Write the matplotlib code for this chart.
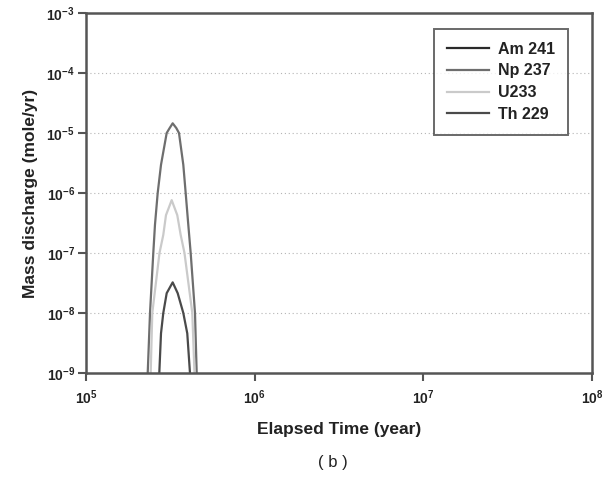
import math
import matplotlib
matplotlib.use('Agg')
import matplotlib.pyplot as plt
from matplotlib.ticker import FixedLocator, FuncFormatter, NullLocator

plt.rcParams['font.family'] = ['Liberation Sans', 'DejaVu Sans']
plt.rcParams['mathtext.fontset'] = 'custom'
plt.rcParams['mathtext.rm'] = 'Liberation Sans'
plt.rcParams['mathtext.bf'] = 'Liberation Sans:bold'

# Mass discharge (mole/yr) against elapsed time (year) per nuclide
nuclides = ['Am 241', 'Np 237', 'U233', 'Th 229']

am241_t = []
am241_q = []

np237_t = [2.322e5, 2.396e5, 2.506e5, 2.564e5, 2.661e5, 2.784e5, 3.009e5,
           3.134e5, 3.265e5, 3.430e5, 3.559e5, 3.775e5, 3.899e5, 4.041e5,
           4.175e5, 4.428e5, 4.532e5]
np237_q = [1e-9, 1e-8, 1e-7, 2.95e-7, 1e-6, 2.95e-6, 1e-5,
           1.21e-5, 1.45e-5, 1.21e-5, 1e-5, 2.95e-6, 1e-6, 2.95e-7,
           1e-7, 1e-8, 1e-9]

u233_t = [2.418e5, 2.472e5, 2.727e5, 2.872e5, 2.980e5, 3.221e5,
          3.477e5, 3.642e5, 3.836e5, 4.268e5, 4.397e5]
u233_q = [1e-9, 1e-8, 1e-7, 2e-7, 4.27e-7, 7.6e-7,
          4.27e-7, 2e-7, 1e-7, 1e-8, 1e-9]

th229_t = [2.720e5, 2.784e5, 2.872e5, 3.009e5, 3.265e5,
           3.496e5, 3.775e5, 3.985e5, 4.135e5]
th229_q = [1e-9, 4.57e-9, 1e-8, 2.14e-8, 3.24e-8,
           2.14e-8, 1e-8, 4.57e-9, 1e-9]

x_ticks = [1e5, 1e6, 1e7, 1e8]
y_ticks = [1e-9, 1e-8, 1e-7, 1e-6, 1e-5, 1e-4, 1e-3]

series = [(am241_t, am241_q, '#2a2a2a'),
          (np237_t, np237_q, '#6e6e6e'),
          (u233_t, u233_q, '#cacaca'),
          (th229_t, th229_q, '#4a4a4a')]

TEXT = '#222222'
SPINE = '#555555'

fig = plt.figure(figsize=(6.11, 4.83), dpi=100)
fig.patch.set_facecolor('white')
ax = fig.add_axes([86 / 611, 1 - 373 / 483, 506 / 611, 360 / 483])

for name, (t, q, c) in zip(nuclides, series):
    ax.plot(t, q, color=c, lw=1.6, label=name, solid_joinstyle='round')

ax.set_xscale('log')
ax.set_yscale('log')
ax.set_xlim(1e5, 1e8)
ax.set_ylim(1e-9, 1e-3)

ax.xaxis.set_major_locator(FixedLocator(x_ticks))
ax.yaxis.set_major_locator(FixedLocator(y_ticks))
ax.xaxis.set_minor_locator(NullLocator())
ax.yaxis.set_minor_locator(NullLocator())
fmt = FuncFormatter(lambda v, p: r'$\mathbf{10^{%d}}$' % round(math.log10(v)))
ax.xaxis.set_major_formatter(fmt)
ax.yaxis.set_major_formatter(fmt)
ax.tick_params(axis='both', direction='out', length=6, width=1.5,
               color=SPINE, labelsize=10, labelcolor=TEXT)
ax.tick_params(axis='x', pad=5)
ax.tick_params(axis='y', pad=2)

for s in ax.spines.values():
    s.set_color(SPINE)
    s.set_linewidth(1.8)

# dotted horizontal grid at each decade
for yv in y_ticks[1:-1]:
    ax.axhline(yv, color='#b5b5b5', lw=0.8, ls=(0, (1, 2.5)), zorder=0)

ax.set_xlabel('Elapsed Time (year)', fontsize=12.5, fontweight='bold',
              color=TEXT, labelpad=11)
ax.set_ylabel('Mass discharge (mole/yr)', fontsize=12.5, fontweight='bold',
              color=TEXT, labelpad=6)

leg = ax.legend(loc='upper right', bbox_to_anchor=(568 / 611, 1 - 29 / 483),
                bbox_transform=fig.transFigure, borderaxespad=0,
                fancybox=False, frameon=True, handlelength=2.6,
                handletextpad=0.6, labelspacing=0.42, borderpad=0.8,
                prop={'size': 11.5, 'weight': 'bold'})
leg.get_frame().set_edgecolor('#444444')
leg.get_frame().set_linewidth(1.4)
for txt in leg.get_texts():
    txt.set_color(TEXT)

fig.text(333 / 611, 1 - 462 / 483, '( b )', fontsize=12, color=TEXT,
         ha='center', va='center')

fig.savefig('out.png', dpi=100, facecolor='white')
